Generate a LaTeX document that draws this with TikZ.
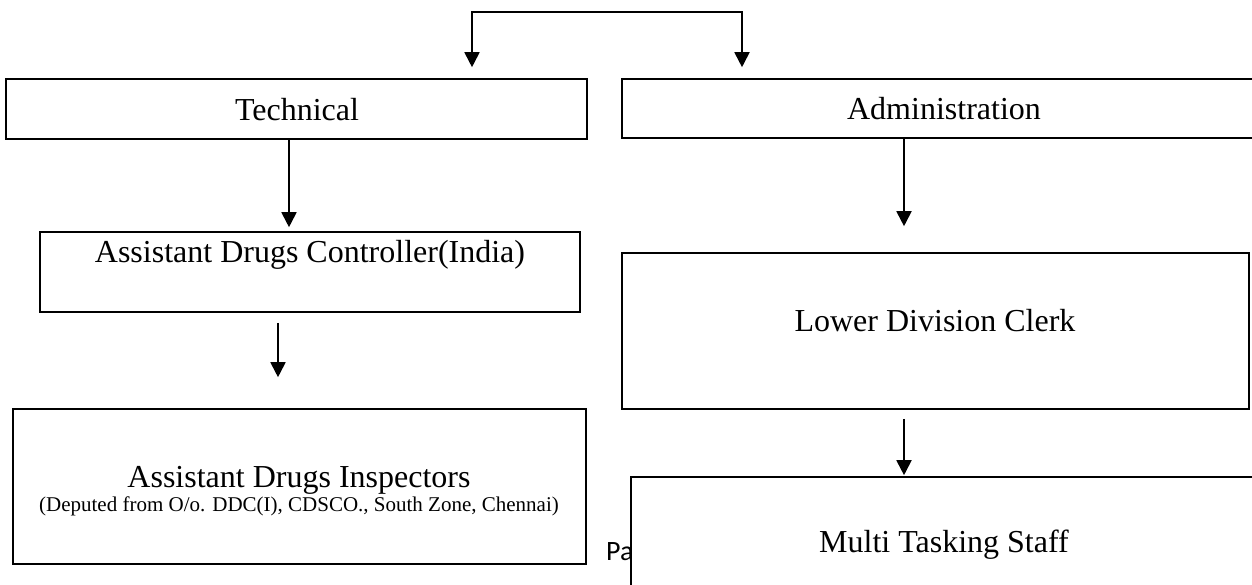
\documentclass[tikz,border=0pt]{standalone}
\usepackage{fontspec}
\setmainfont{Liberation Serif}
\newfontfamily\calibrifont{Carlito}
\usetikzlibrary{arrows.meta}
\begin{document}
\begin{tikzpicture}[x=1pt,y=-1pt,
  box/.style={draw, line width=1.6pt, inner sep=0pt, fill=white},
  lbl/.style={anchor=base, inner sep=0pt, font=\fontsize{32}{38}\selectfont},
  sublbl/.style={anchor=base, inner sep=0pt, font=\fontsize{21}{25}\selectfont},
  arr/.style={line width=1.8pt, -{Triangle[length=15pt,width=15pt]}},
  darr/.style={line width=1.8pt, {Triangle[length=15pt,width=15pt]}-{Triangle[length=15pt,width=15pt]}}]
\clip (0,0) rectangle (1252,584);
\fill[white] (0,0) rectangle (1252,584);
% column coordinates
\coordinate (tx) at (472,0);
\coordinate (ax) at (742,0);
\coordinate (bus) at (600,12);
\coordinate (c1) at (289,0);
\coordinate (c2) at (278,0);
\coordinate (c3) at (904,0);
% boxes
\node[box, minimum width=581pt, minimum height=60pt] (tech) at (296.5,109) {};
\node[box, minimum width=648pt, minimum height=59pt] (admin) at (946,108.5) {};
\node[box, minimum width=540pt, minimum height=80pt] (adc) at (310,272) {};
\node[box, minimum width=573pt, minimum height=155pt] (adi) at (299.5,486.5) {};
\node[box, minimum width=627pt, minimum height=156pt] (ldc) at (935.5,331) {};
% labels
\node[lbl] (techt) at (297,120) {Technical};
\node[lbl] (admint) at (944,119) {Administration};
\node[lbl] (adct) at (310,262) {Assistant Drugs Controller(India)};
\node[lbl] (adit) at (299,487) {Assistant Drugs Inspectors};
\node[sublbl] (adis) at (299,511) {(Deputed from O/o. DDC(I), CDSCO., South Zone, Chennai)};
\node[lbl] (ldct) at (935,331) {Lower Division Clerk};
\node[anchor=base west, inner sep=0pt, font=\calibrifont\fontsize{28}{32}\selectfont] (pa) at (606,560) {Pa};
\node[box, minimum width=639pt, minimum height=123pt] (mts) at (950.5,538.5) {};
\node[lbl] (mtst) at (944,552) {Multi Tasking Staff};
% connectors
\draw[darr, shorten <=11pt, shorten >=11pt] (tech.north -| tx) |- (bus) -| (admin.north -| ax);
\draw[arr, shorten >=4pt] (c1 |- tech.south) -- (c1 |- adc.north);
\draw[arr, shorten <=10pt, shorten >=31pt] (c2 |- adc.south) -- (c2 |- adi.north);
\draw[arr, shorten >=26pt] (c3 |- admin.south) -- (c3 |- ldc.north);
\draw[arr, shorten <=9pt, shorten >=1pt] (c3 |- ldc.south) -- (c3 |- mts.north);
\end{tikzpicture}
\end{document}
